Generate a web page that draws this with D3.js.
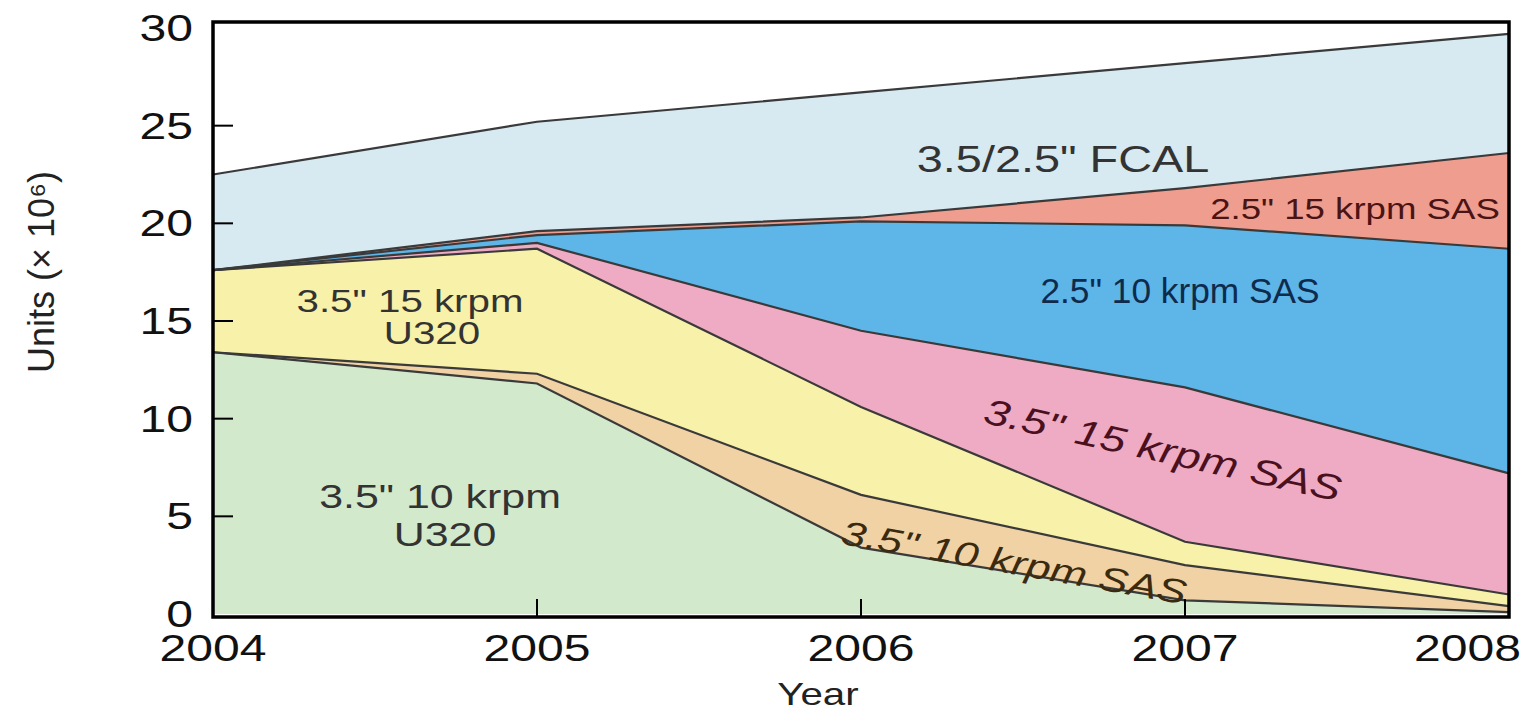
<!DOCTYPE html>
<html><head><meta charset="utf-8">
<script src="https://cdn.jsdelivr.net/npm/d3@7"></script>
<style>body{margin:0;background:#fff}svg{display:block}text{font-family:"Liberation Sans",Arial,sans-serif}</style>
</head><body><svg id="c" width="1523" height="721"></svg>
<script>
const years = [2004, 2005, 2006, 2007, 2008];
const u320_10k = [13.4, 11.8, 3.4, 0.7, 0.1];
const sas35_10k = [0.0, 0.5, 2.7, 1.8, 0.3];
const u320_15k = [4.2, 6.4, 4.5, 1.2, 0.6];
const sas35_15k = [0.0, 0.3, 3.9, 7.9, 6.2];
const sas25_10k = [0.0, 0.4, 5.6, 8.3, 11.5];
const sas25_15k = [0.0, 0.2, 0.2, 1.9, 4.9];
const fcal = [4.9, 5.6, 6.4, 6.4, 6.1];
const yTicks = [0, 5, 10, 15, 20, 25, 30];

const keys = ["u320_10k","sas35_10k","u320_15k","sas35_15k","sas25_10k","sas25_15k","fcal"];
const seriesVals = {u320_10k, sas35_10k, u320_15k, sas35_15k, sas25_10k, sas25_15k, fcal};
const colors = {u320_10k:"#d3e9cc", sas35_10k:"#f0d2a4", u320_15k:"#f8f1a9", sas35_15k:"#efabc4",
  sas25_10k:"#5db5e8", sas25_15k:"#ef9d8e", fcal:"#d7e9f1"};
const table = years.map((y,i)=>{const o={year:y}; keys.forEach(k=>o[k]=seriesVals[k][i]); return o;});

const svg = d3.select("#c");
const x = d3.scaleLinear().domain([2004, 2008]).range([213, 1509]);
const y = d3.scaleLinear().domain([0, 30]).range([614, 28]);
const SX = 1.3;

const stack = d3.stack().keys(keys)(table);
const area = d3.area().x(d=>x(d.data.year)).y0(d=>y(d[0])).y1(d=>y(d[1]));
const line = d3.line().x(d=>x(d.data.year)).y(d=>y(d[1]));

svg.append("g").selectAll("path").data(stack).join("path")
  .attr("d", area).attr("fill", d=>colors[d.key]);
svg.append("g").selectAll("path").data(stack).join("path")
  .attr("d", line).attr("fill","none").attr("stroke","#3a3a3a").attr("stroke-width",2.2);

// frame
svg.append("rect").attr("x",213).attr("y",22).attr("width",1509-213).attr("height",617-22)
  .attr("fill","none").attr("stroke","#000").attr("stroke-width",3.5);

// y ticks (inward)
svg.append("g").selectAll("line").data(yTicks.filter(t=>t>0&&t<30)).join("line")
  .attr("x1",213).attr("x2",233).attr("y1",d=>y(d)).attr("y2",d=>y(d)).attr("stroke","#000").attr("stroke-width",2);
// x ticks (inward)
svg.append("g").selectAll("line").data(years.slice(1,-1)).join("line")
  .attr("x1",d=>x(d)).attr("x2",d=>x(d)).attr("y1",617).attr("y2",599).attr("stroke","#000").attr("stroke-width",2);

function stxt(g, str, cx, cy, size, color, opts={}){
  return g.append("text")
    .attr("transform", `translate(${cx},${cy}) rotate(${opts.rot||0}) scale(${opts.sx||SX},1)`)
    .attr("text-anchor", opts.anchor||"middle").attr("font-size", size).attr("fill", color)
    .attr("font-style", opts.italic?"italic":"normal").text(str);
}
const g = svg.append("g");
yTicks.forEach(t=> stxt(g, String(t), 193, y(t)+13, 37, "#111", {anchor:"end"}));
years.forEach(yr=> {
  if (yr === 2008) stxt(g, String(yr), 1521, 661, 37, "#111", {anchor:"end"});
  else stxt(g, String(yr), x(yr), 661, 37, "#111");
});
stxt(g, "Year", 818, 705, 31, "#222");
stxt(g, "Units (\u00d7 10\u2076)", 54, 272, 36, "#222", {rot:-90, sx:1});

// series labels
stxt(g, "3.5/2.5\" FCAL", 1063, 172, 36, "#333");
stxt(g, "2.5\" 15 krpm SAS", 1355, 219, 30, "#4a1414", {sx:1.22});
stxt(g, "2.5\" 10 krpm SAS", 1180, 303, 36, "#0e2b4d", {sx:0.98});
stxt(g, "3.5\" 15 krpm SAS", 1160, 462, 36, "#4a1020", {rot:12.5, italic:true, sx:1.28});
stxt(g, "3.5\" 15 krpm", 410, 312, 31, "#333");
stxt(g, "U320", 432, 344, 31, "#333");
stxt(g, "3.5\" 10 krpm", 440, 508, 33, "#333");
stxt(g, "U320", 445, 546, 33, "#333");
stxt(g, "3.5\" 10 krpm SAS", 1012, 574, 34, "#3a2a10", {rot:10, italic:true, sx:1.3});
</script></body></html>
